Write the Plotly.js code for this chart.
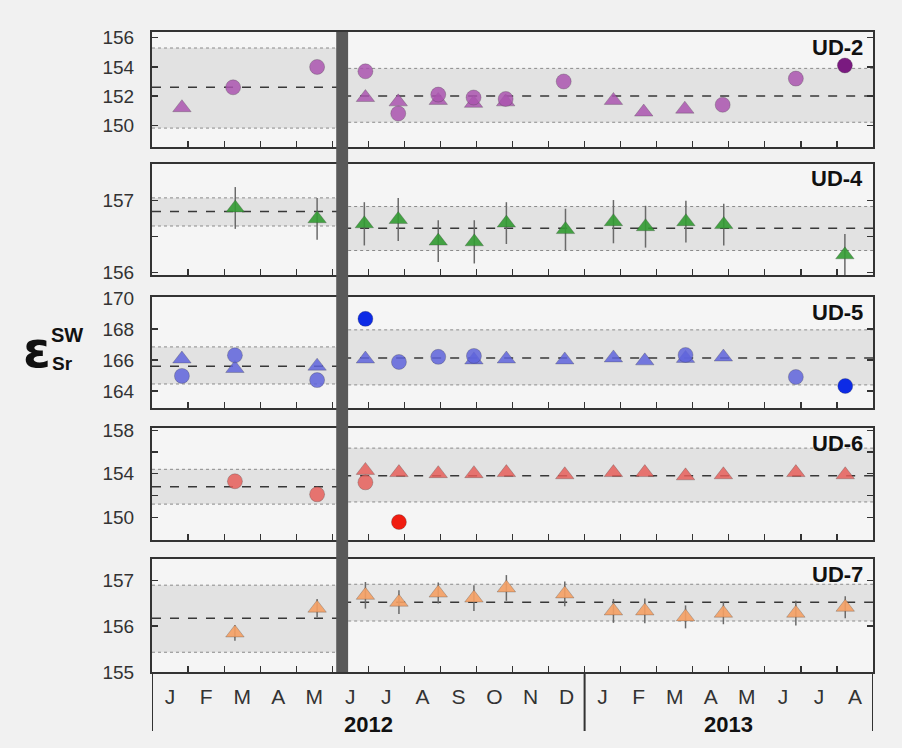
<!DOCTYPE html>
<html><head><meta charset="utf-8">
<script src="https://cdn.plot.ly/plotly-3.0.1.min.js"></script>
<style>html,body{margin:0;padding:0;background:#f1f1f1;}#chart{width:902px;height:748px;}</style>
</head><body><div id="chart"></div>
<script>
// ---- data (x in months since 1 Jan 2012) ----
const monthLabels = ['J','F','M','A','M','J','J','A','S','O','N','D','J','F','M','A','M','J','J','A'];
const yearLabels = ['2012','2013'];
const stations = ['UD-2','UD-4','UD-5','UD-6','UD-7'];

const ud2CircX = [2.25, 4.58, 5.92, 6.83, 7.94, 8.92, 9.81, 11.42, 15.83, 17.86];
const ud2CircY = [152.6, 154.0, 153.7, 150.8, 152.1, 151.9, 151.8, 153.0, 151.4, 153.2];
const ud2DarkX = [19.22];
const ud2DarkY = [154.1];
const ud2TriX = [0.83, 5.92, 6.83, 7.94, 8.92, 9.81, 12.8, 13.64, 14.78];
const ud2TriY = [151.2, 151.9, 151.6, 151.7, 151.5, 151.6, 151.7, 150.9, 151.1];

const ud4TriX = [2.31, 4.58, 5.89, 6.83, 7.94, 8.94, 9.83, 11.47, 12.8, 13.69, 14.81, 15.86, 19.22];
const ud4TriY = [156.90, 156.75, 156.68, 156.74, 156.44, 156.43, 156.69, 156.60, 156.71, 156.64, 156.71, 156.67, 156.25];
const ud4Err  = [0.29, 0.29, 0.30, 0.30, 0.29, 0.30, 0.29, 0.29, 0.30, 0.29, 0.29, 0.29, 0.29];

const ud5CircX = [0.83, 2.3, 4.58, 6.85, 7.94, 8.93, 14.8, 17.86];
const ud5CircY = [164.97, 166.3, 164.7, 165.87, 166.2, 166.26, 166.32, 164.9];
const ud5DarkX = [5.92, 19.23];
const ud5DarkY = [168.65, 164.32];
const ud5TriX = [0.83, 2.3, 4.58, 5.92, 8.93, 9.83, 11.45, 12.8, 13.67, 14.8, 15.85];
const ud5TriY = [166.06, 165.45, 165.6, 166.06, 166.0, 166.06, 166.0, 166.13, 165.94, 166.1, 166.19];

const ud6CircX = [2.3, 4.58, 5.92];
const ud6CircY = [153.3, 152.1, 153.2];
const ud6BrightX = [6.85];
const ud6BrightY = [149.55];
const ud6TriX = [5.92, 6.85, 7.94, 8.93, 9.83, 11.45, 12.8, 13.67, 14.8, 15.85, 17.86, 19.23];
const ud6TriY = [154.3, 154.1, 154.0, 154.0, 154.1, 153.9, 154.1, 154.1, 153.8, 153.9, 154.1, 153.9];

const ud7TriX = [2.3, 4.58, 5.92, 6.85, 7.94, 8.93, 9.83, 11.45, 12.8, 13.67, 14.8, 15.85, 17.86, 19.23];
const ud7TriY = [155.85, 156.39, 156.67, 156.52, 156.72, 156.61, 156.83, 156.70, 156.33, 156.33, 156.20, 156.28, 156.28, 156.41];
const ud7Err  = [0.17, 0.20, 0.29, 0.26, 0.23, 0.28, 0.28, 0.27, 0.26, 0.27, 0.25, 0.24, 0.27, 0.24];

// bands: [lower, mean, upper] before and after the event
const bandPre  = [[149.8,152.6,155.3],[156.65,156.85,157.04],[164.45,165.6,166.84],[151.2,152.8,154.4],[155.43,156.17,156.89]];
const bandPost = [[150.2,152.0,153.9],[156.31,156.62,156.92],[164.39,166.13,167.94],[151.4,153.8,156.35],[156.11,156.52,156.91]];
const eventStart = 5.11, eventEnd = 5.44;
const periodStart = 0, periodEnd = 20, yearSplit = 12;

// ---- layout helpers ----
const W = 902, H = 748;
const fy = py => 1 - py / H;
const panelPx = [[32,147],[164,275],[297,408],[428,540],[559,672]];
const yRanges = [[148.5,156.4],[155.97,157.51],[162.9,170.06],[147.9,158.2],[155,157.46]];
const yTickVals = [[150,152,154,156],[156,156.5,157],[164,166,168,170],[150,152,154,156,158],[155,156,157]];
const yTickText = [['150','152','154','156'],['156','','157'],['164','166','168','170'],['150','','154','','158'],['155','156','157']];

const col = {
  ud2:'rgba(170,85,175,0.85)', ud2d:'#7a1a80',
  ud4:'rgba(50,155,50,0.9)',
  ud5:'rgba(95,100,220,0.85)', ud5d:'#0d2be6',
  ud6:'rgba(230,95,90,0.85)', ud6b:'#f01c10',
  ud7:'rgba(245,160,100,0.9)'
};
const CS = 15, TS = 16;

const traces = [];
const ax = i => (i===0 ? '' : String(i+1));

// bands
for (let i=0;i<5;i++){
  const xa='x'+ax(i), ya='y'+ax(i);
  [[bandPre[i], periodStart, (eventStart+eventEnd)/2],[bandPost[i], (eventStart+eventEnd)/2, periodEnd]].forEach(([b,x0,x1])=>{
    traces.push({x:[x0,x1],y:[b[0],b[0]],xaxis:xa,yaxis:ya,mode:'lines',line:{color:'#8a8a8a',width:1,dash:'dot'},hoverinfo:'skip',showlegend:false});
    traces.push({x:[x0,x1],y:[b[2],b[2]],xaxis:xa,yaxis:ya,mode:'lines',line:{color:'#8a8a8a',width:1,dash:'dot'},fill:'tonexty',fillcolor:'rgba(165,165,165,0.23)',hoverinfo:'skip',showlegend:false});
    traces.push({x:[x0,x1],y:[b[1],b[1]],xaxis:xa,yaxis:ya,mode:'lines',line:{color:'#383838',width:1.5,dash:'dash'},hoverinfo:'skip',showlegend:false});
  });
}

function pts(x,y,i,symbol,color,size,err){
  const t={x:x,y:y,xaxis:'x'+ax(i),yaxis:'y'+ax(i),mode:'markers',showlegend:false,
    marker:{symbol:symbol,color:color,size:size,line:{color:'rgba(60,60,60,0.35)',width:0.8}}};
  if(err) t.error_y={type:'data',array:err,visible:true,color:'#6a6a6a',thickness:1.5,width:0};
  traces.push(t);
}
pts(ud2TriX,ud2TriY,0,'triangle-up',col.ud2,TS);
pts(ud2CircX,ud2CircY,0,'circle',col.ud2,CS);
pts(ud2DarkX,ud2DarkY,0,'circle',col.ud2d,CS);

pts(ud4TriX,ud4TriY,1,'triangle-up',col.ud4,TS,ud4Err);

pts(ud5TriX,ud5TriY,2,'triangle-up',col.ud5,TS);
pts(ud5CircX,ud5CircY,2,'circle',col.ud5,CS);
pts(ud5DarkX,ud5DarkY,2,'circle',col.ud5d,CS);

pts(ud6CircX,ud6CircY,3,'circle',col.ud6,CS);
pts(ud6TriX,ud6TriY,3,'triangle-up',col.ud6,TS);
pts(ud6BrightX,ud6BrightY,3,'circle',col.ud6b,CS);

pts(ud7TriX,ud7TriY,4,'triangle-up',col.ud7,TS,ud7Err);

// invisible trace to carry the month-label axis
traces.push({x:[periodStart,periodEnd],y:[155.5,155.5],xaxis:'x6',yaxis:'y5',mode:'markers',marker:{opacity:0},hoverinfo:'skip',showlegend:false});

const FONT = 'Liberation Sans, Arial, sans-serif';
const layout = {
  width:W, height:H, margin:{l:0,r:0,t:0,b:0},
  paper_bgcolor:'#f1f1f1', plot_bgcolor:'#f5f5f5',
  showlegend:false, font:{family:FONT,color:'#2a2a2a'},
  shapes:[], annotations:[]
};
const xdom = [152/W, 873/W];
const integerTicks = Array.from({length:19},(_,k)=>k+1);
for (let i=0;i<5;i++){
  const [top,bot]=panelPx[i];
  layout['xaxis'+ax(i)] = {domain:xdom, anchor:'y'+ax(i), range:[periodStart,periodEnd], showgrid:false, zeroline:false,
    showline:true, mirror:true, linecolor:'#333', linewidth:2, ticks:'inside', ticklen:6, tickwidth:1.2, tickcolor:'#333',
    tickmode:'array', tickvals:integerTicks, showticklabels:false, fixedrange:true};
  if(i>0) layout['xaxis'+ax(i)].matches='x';
  layout['yaxis'+ax(i)] = {domain:[fy(bot),fy(top)], anchor:'x'+ax(i), range:yRanges[i], showgrid:false, zeroline:false,
    showline:true, mirror:'ticks', linecolor:'#333', linewidth:2, ticks:'inside', ticklen:6, tickwidth:1.2, tickcolor:'#333',
    tickmode:'array', tickvals:yTickVals[i], ticktext:yTickText[i], tickfont:{size:19,color:'#333',family:FONT},
    ticklabelstandoff:12, fixedrange:true};
  layout.annotations.push({xref:'paper',yref:'paper',x:865/W,y:fy(top+15),xanchor:'right',yanchor:'middle',
    text:'<b>'+stations[i]+'</b>',showarrow:false,font:{size:22,color:'#111',family:FONT}});
}
layout.xaxis6 = {overlaying:'x5', anchor:'y5', side:'bottom', range:[periodStart,periodEnd], showgrid:false, zeroline:false,
  showline:false, ticks:'', tickmode:'array', tickvals:monthLabels.map((_,k)=>k+0.5), ticktext:monthLabels,
  tickfont:{size:21,color:'#333',family:FONT}, ticklabelstandoff:10, fixedrange:true};

// event bar
layout.shapes.push({type:'rect',xref:'x5',yref:'paper',x0:eventStart,x1:eventEnd,y0:fy(672),y1:fy(32),
  fillcolor:'#595959',line:{width:0},layer:'above'});
// year separators below axis
[periodStart, yearSplit, periodEnd].forEach(v=>{
  layout.shapes.push({type:'line',xref:'x5',yref:'paper',x0:v,x1:v,y0:fy(731),y1:fy(672),line:{color:'#333',width:2}});
});
// year labels
layout.annotations.push({xref:'x5',yref:'paper',x:(periodStart+yearSplit)/2,y:fy(724),xanchor:'center',yanchor:'middle',text:'<b>'+yearLabels[0]+'</b>',showarrow:false,font:{size:22,color:'#111',family:FONT}});
layout.annotations.push({xref:'x5',yref:'paper',x:(yearSplit+periodEnd)/2,y:fy(724),xanchor:'center',yanchor:'middle',text:'<b>'+yearLabels[1]+'</b>',showarrow:false,font:{size:22,color:'#111',family:FONT}});
// y-axis symbol
layout.annotations.push({xref:'paper',yref:'paper',x:37/W,y:fy(350),xanchor:'center',yanchor:'middle',text:'<b>ε</b>',showarrow:false,font:{size:50,color:'#111',family:'DejaVu Sans, sans-serif'}});
layout.annotations.push({xref:'paper',yref:'paper',x:67/W,y:fy(335),xanchor:'center',yanchor:'middle',text:'<b>SW</b>',showarrow:false,font:{size:20,color:'#111',family:FONT}});
layout.annotations.push({xref:'paper',yref:'paper',x:62/W,y:fy(363),xanchor:'center',yanchor:'middle',text:'<b>Sr</b>',showarrow:false,font:{size:19,color:'#111',family:FONT}});

Plotly.newPlot('chart', traces, layout, {staticPlot:true, displayModeBar:false});
</script></body></html>
